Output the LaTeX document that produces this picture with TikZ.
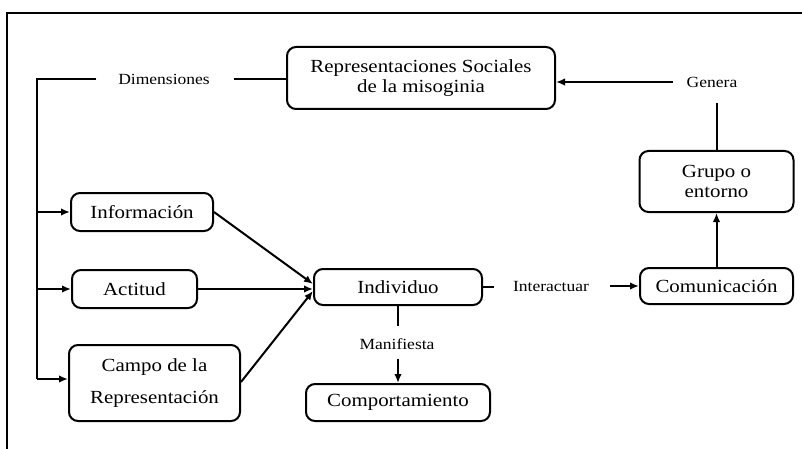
\documentclass[tikz,border=0pt]{standalone}
\usepackage{fontspec}
\setmainfont{Liberation Serif}[FakeStretch=1.13]
\usetikzlibrary{arrows.meta}
\begin{document}
\begin{tikzpicture}[x=1pt,y=-1pt,
  line width=2pt,
  box/.style={draw,rounded corners=9pt,align=center,inner sep=0pt,
    font=\fontsize{18.5}{20.5}\selectfont},
  lbl/.style={inner sep=0pt,font=\fontsize{15.5}{18}\selectfont},
  arr/.style={-{Latex[length=9pt,width=7.5pt]}}]
\useasboundingbox (0,0) rectangle (802,449);
% frame
\draw (7,449) -- (7,13) -- (802,13);
% boxes
\node[box,minimum width=268pt,minimum height=62pt] (rs) at (421,78) {Representaciones Sociales\\de la misoginia};
\node[box,minimum width=142pt,minimum height=38pt] (info) at (142,212) {Información};
\node[box,minimum width=125pt,minimum height=38pt] (act) at (134.5,289) {Actitud};
\node[box,minimum width=171pt,minimum height=76pt] (campo) at (154.5,383) {Campo de la\\[11pt]Representación};
\node[box,minimum width=168pt,minimum height=36pt] (ind) at (398,287) {Individuo};
\node[box,minimum width=184pt,minimum height=37pt] (comp) at (398,402.5) {Comportamiento};
\node[box,minimum width=153pt,minimum height=36pt] (com) at (716.5,286) {Comunicación};
\node[box,minimum width=154pt,minimum height=61pt] (grupo) at (716.5,181.5) {Grupo o\\entorno};
% labels
\node[lbl] (dim) at (164,79) {Dimensiones};
\node[lbl] (gen) at (712,82) {Genera};
\node[lbl] (inter) at (551,286) {Interactuar};
\node[lbl] (mani) at (397,344) {Manifiesta};
% coordinates of the spine
\coordinate (spt) at (37,79);
\coordinate (spb) at (37,379);
% connectors
\draw[shorten >=23pt] (rs.west |- dim.east) -- (dim.east);
\draw[shorten <=21pt] (dim.west) -- (spt) -- (spb);
\draw[arr] (spt |- info.west) -- (info.west);
\draw[arr] (spt |- act.west) -- (act.west);
\draw[arr] (spb) -- (spb -| campo.west);
\draw[arr] (info.east) -- ([yshift=3pt]ind.west);
\draw[arr] (act.east) -- (act.east -| ind.west);
\draw[arr] ([yshift=1pt]campo.east) -- ([yshift=-4pt]ind.west);
\draw[shorten >=18pt] (ind.east) -- (ind.east -| inter.west);
\draw[arr,shorten <=20pt] (inter.east) -- (inter.east -| com.west);
\draw[arr] (com.north -| grupo.south) -- (grupo.south);
\draw[shorten >=15pt] (grupo.north) -- (grupo.north |- gen.south);
\draw[arr,shorten <=13pt] (gen.west) -- (gen.west -| rs.east);
\draw[shorten >=11pt] (ind.south) -- (ind.south |- mani.north);
\draw[arr,shorten <=8pt] (mani.south -| comp.north) -- (comp.north);
\end{tikzpicture}
\end{document}
